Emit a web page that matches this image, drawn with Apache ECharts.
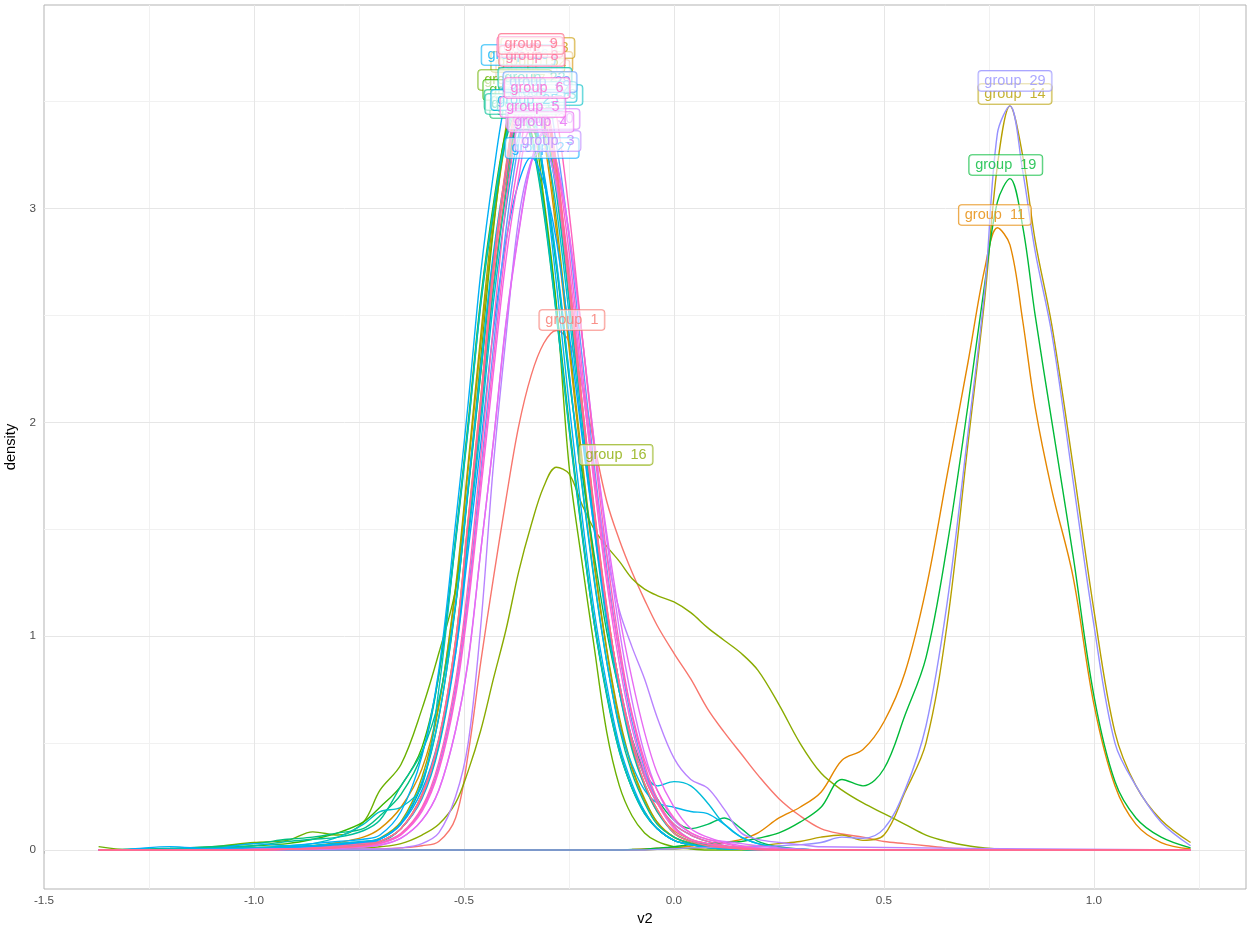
<!DOCTYPE html>
<html>
<head>
<meta charset="utf-8">
<title>density of v2 by group</title>
<script src="https://cdn.jsdelivr.net/npm/echarts@6/dist/echarts.min.js"></script>
<style>
  html, body { margin: 0; padding: 0; background: #ffffff; }
  #chart { width: 1247px; height: 932px; }
</style>
</head>
<body>
<div id="chart"></div>
<script>
// evaluation points of the density estimates
const v2Full = [
  -1.37, -1.3, -1.2, -1.1, -1.0, -0.92, -0.86, -0.8, -0.74,
  -0.7, -0.65, -0.6, -0.56, -0.52, -0.49, -0.46, -0.43, -0.4, -0.37, -0.34, -0.31, -0.28, -0.25, -0.22, -0.19, -0.16, -0.13, -0.1, -0.07, -0.04,
  0, 0.04, 0.08, 0.12, 0.16, 0.2, 0.25, 0.3, 0.35,
  0.4, 0.45, 0.5, 0.55, 0.6, 0.65, 0.7, 0.74, 0.77, 0.8, 0.83, 0.86, 0.9, 0.95, 1.0, 1.05, 1.1, 1.16, 1.23
];
const v2Peak = [
  -1.37, -1.3, -1.2, -1.1, -1.0, -0.92, -0.86, -0.8, -0.74,
  -0.7, -0.65, -0.6, -0.56, -0.52, -0.49, -0.46, -0.43, -0.4, -0.37, -0.34, -0.31, -0.28, -0.25, -0.22, -0.19, -0.16, -0.13, -0.1, -0.07, -0.04,
  0, 0.04, 0.08, 0.12, 0.16, 0.2, 0.25, 0.3, 0.35,
  1.23
];

// densities on v2Full
const d1 = [
  0, 0, 0, 0, 0, 0, 0.002, 0.003, 0.004,
  0.005, 0.01, 0.02, 0.04, 0.15, 0.45, 0.88, 1.27, 1.64, 1.98, 2.22, 2.37, 2.43, 2.38, 2.18, 1.9, 1.63, 1.45, 1.3, 1.17, 1.05,
  0.92, 0.8, 0.66, 0.55, 0.45, 0.35, 0.24, 0.16, 0.1,
  0.075, 0.06, 0.04, 0.03, 0.02, 0.01, 0.005, 0, 0, 0, 0, 0, 0, 0, 0, 0, 0, 0, 0
];
const d11 = [
  0, 0, 0, 0, 0, 0, 0, 0, 0,
  0, 0, 0, 0, 0, 0, 0, 0, 0, 0, 0, 0, 0, 0, 0, 0, 0, 0, 0.002, 0.005, 0.008,
  0.012, 0.018, 0.025, 0.035, 0.05, 0.08, 0.15, 0.2, 0.27,
  0.42, 0.47, 0.6, 0.83, 1.22, 1.75, 2.28, 2.72, 2.91, 2.83, 2.48, 2.07, 1.68, 1.28, 0.68, 0.3, 0.12, 0.035, 0.005
];
const d14 = [
  0, 0, 0, 0, 0, 0, 0, 0, 0,
  0, 0, 0, 0, 0, 0, 0, 0, 0, 0, 0, 0, 0, 0, 0, 0, 0, 0, 0, 0, 0.003,
  0.005, 0.008, 0.01, 0.012, 0.015, 0.02, 0.03, 0.04, 0.06,
  0.07, 0.045, 0.07, 0.27, 0.5, 1.05, 1.9, 2.58, 3.2, 3.48, 3.25, 2.85, 2.45, 1.8, 1.12, 0.55, 0.3, 0.14, 0.035
];
const d16 = [
  0, 0, 0, 0.002, 0.003, 0.004, 0.005, 0.006, 0.01,
  0.015, 0.03, 0.07, 0.12, 0.22, 0.37, 0.56, 0.8, 1.03, 1.3, 1.52, 1.7, 1.79, 1.76, 1.62, 1.5, 1.42, 1.35, 1.27, 1.22, 1.19,
  1.16, 1.11, 1.04, 0.98, 0.92, 0.84, 0.68, 0.5, 0.36,
  0.28, 0.22, 0.17, 0.12, 0.07, 0.04, 0.02, 0.01, 0.005, 0.003, 0, 0, 0, 0, 0, 0, 0, 0, 0
];
const d19 = [
  0, 0, 0, 0, 0, 0, 0, 0, 0,
  0, 0, 0, 0, 0, 0, 0, 0, 0, 0, 0, 0, 0, 0, 0, 0, 0, 0, 0.002, 0.004, 0.008,
  0.015, 0.025, 0.03, 0.035, 0.04, 0.055, 0.08, 0.13, 0.2,
  0.33, 0.3, 0.38, 0.63, 0.9, 1.42, 2.08, 2.65, 3.03, 3.14, 2.92, 2.5, 2.0, 1.38, 0.72, 0.32, 0.15, 0.06, 0.01
];
const d29 = [
  0, 0, 0, 0, 0, 0, 0, 0, 0,
  0, 0, 0, 0, 0, 0, 0, 0, 0, 0, 0, 0, 0, 0, 0, 0, 0, 0, 0, 0, 0.003,
  0.006, 0.01, 0.012, 0.015, 0.015, 0.015, 0.02, 0.025, 0.035,
  0.06, 0.055, 0.1, 0.28, 0.58, 1.15, 1.95, 2.62, 3.35, 3.48, 3.18, 2.8, 2.41, 1.73, 1.05, 0.5, 0.3, 0.13, 0.02
];

// densities on v2Peak
const d2 = [
  0, 0, 0.002, 0.004, 0.008, 0.012, 0.02, 0.03, 0.04,
  0.052, 0.124, 0.31, 0.62, 1.14, 1.68, 2.23, 2.76, 3.14, 3.37, 3.37, 3.14, 2.73, 2.21, 1.78, 1.38, 1.02, 0.74, 0.52, 0.36, 0.24,
  0.14, 0.1, 0.12, 0.15, 0.1, 0.04, 0.015, 0.005, 0, 0
];
const d3 = [
  0, 0, 0, 0, 0.001, 0.002, 0.003, 0.004, 0.005,
  0.005, 0.01, 0.03, 0.08, 0.25, 0.5, 1.05, 1.8, 2.4, 2.95, 3.22, 3.28, 3.1, 2.65, 2.2, 1.75, 1.38, 1.12, 0.95, 0.8, 0.62,
  0.43, 0.33, 0.29, 0.19, 0.08, 0.05, 0.035, 0.025, 0.015, 0
];
const d4 = [
  0, 0, 0, 0, 0.002, 0.003, 0.005, 0.008, 0.015,
  0.023, 0.056, 0.14, 0.28, 0.56, 0.88, 1.4, 1.91, 2.46, 2.88, 3.21, 3.35, 3.21, 2.88, 2.42, 1.91, 1.48, 1.1, 0.8, 0.55, 0.36,
  0.2, 0.1, 0.06, 0.035, 0.02, 0.01, 0.004, 0, 0, 0
];
const d5 = [
  0, 0, 0, 0, 0.002, 0.004, 0.006, 0.01, 0.018,
  0.03, 0.071, 0.18, 0.37, 0.72, 1.14, 1.68, 2.23, 2.76, 3.14, 3.37, 3.37, 3.14, 2.73, 2.21, 1.71, 1.25, 0.87, 0.57, 0.36, 0.22,
  0.1, 0.05, 0.03, 0.015, 0.008, 0.004, 0, 0, 0, 0
];
const d6 = [
  0, 0, 0, 0, 0.002, 0.005, 0.008, 0.012, 0.02,
  0.031, 0.073, 0.19, 0.38, 0.74, 1.17, 1.73, 2.29, 2.83, 3.22, 3.46, 3.46, 3.22, 2.8, 2.27, 1.76, 1.29, 0.92, 0.64, 0.42, 0.28,
  0.15, 0.08, 0.05, 0.03, 0.015, 0.008, 0.003, 0, 0, 0
];
const d7 = [
  0, 0, 0, 0, 0, 0.003, 0.006, 0.012, 0.02,
  0.033, 0.078, 0.2, 0.41, 0.79, 1.25, 1.84, 2.45, 3.02, 3.44, 3.7, 3.7, 3.44, 2.99, 2.43, 1.88, 1.38, 0.96, 0.63, 0.4, 0.24,
  0.11, 0.05, 0.03, 0.014, 0.007, 0.003, 0, 0, 0, 0
];
const d8 = [
  0, 0, 0, 0, 0, 0.004, 0.01, 0.018, 0.03,
  0.04, 0.1, 0.25, 0.51, 0.97, 1.53, 2.08, 2.7, 3.15, 3.51, 3.66, 3.51, 3.15, 2.64, 2.08, 1.58, 1.12, 0.78, 0.52, 0.34, 0.22,
  0.12, 0.07, 0.04, 0.02, 0.01, 0.005, 0.002, 0, 0, 0
];
const d9 = [
  0, 0, 0, 0, 0, 0.003, 0.007, 0.012, 0.022,
  0.04, 0.1, 0.26, 0.52, 0.98, 1.55, 2.12, 2.74, 3.2, 3.56, 3.72, 3.56, 3.2, 2.69, 2.12, 1.6, 1.14, 0.77, 0.5, 0.31, 0.19,
  0.08, 0.04, 0.02, 0.01, 0.005, 0, 0, 0, 0, 0
];
const d10 = [
  0, 0, 0, 0.002, 0.004, 0.006, 0.01, 0.018, 0.03,
  0.04, 0.1, 0.25, 0.5, 0.95, 1.5, 2.05, 2.65, 3.1, 3.45, 3.6, 3.45, 3.1, 2.6, 2.05, 1.55, 1.1, 0.75, 0.48, 0.3, 0.18,
  0.09, 0.05, 0.03, 0.015, 0.008, 0.004, 0.002, 0, 0, 0
];
const d12 = [
  0, 0, 0.002, 0.004, 0.008, 0.012, 0.02, 0.035, 0.06,
  0.1, 0.2, 0.38, 0.68, 1.21, 1.78, 2.37, 2.92, 3.33, 3.58, 3.58, 3.33, 2.89, 2.35, 1.81, 1.33, 0.93, 0.6, 0.38, 0.23, 0.13,
  0.06, 0.03, 0.016, 0.008, 0.004, 0.002, 0, 0, 0, 0
];
const d13 = [
  0, 0, 0, 0.002, 0.004, 0.006, 0.01, 0.015, 0.025,
  0.04, 0.1, 0.26, 0.51, 0.98, 1.54, 2.11, 2.72, 3.19, 3.55, 3.7, 3.55, 3.19, 2.67, 2.11, 1.59, 1.13, 0.77, 0.49, 0.31, 0.19,
  0.08, 0.04, 0.02, 0.01, 0.005, 0.002, 0, 0, 0, 0
];
const d15 = [
  0, 0, 0.002, 0.004, 0.006, 0.01, 0.015, 0.02, 0.035,
  0.056, 0.133, 0.34, 0.67, 1.23, 1.81, 2.41, 2.97, 3.38, 3.64, 3.64, 3.38, 2.94, 2.39, 1.85, 1.35, 0.94, 0.62, 0.39, 0.24, 0.13,
  0.06, 0.033, 0.016, 0.008, 0.004, 0.002, 0, 0, 0, 0
];
const d17 = [
  0.016, 0.002, 0.005, 0.015, 0.035, 0.045, 0.085, 0.07, 0.13,
  0.28, 0.4, 0.66, 0.92, 1.22, 1.7, 2.3, 2.9, 3.35, 3.55, 3.45, 3.05, 2.55, 1.8, 1.36, 0.95, 0.55, 0.3, 0.16, 0.08, 0.04,
  0.015, 0.005, 0, 0, 0, 0, 0, 0, 0, 0
];
const d18 = [
  0, 0, 0.004, 0.01, 0.02, 0.03, 0.05, 0.08, 0.13,
  0.2, 0.3, 0.48, 0.82, 1.46, 2.0, 2.58, 3.02, 3.36, 3.51, 3.36, 3.02, 2.54, 2.0, 1.51, 1.07, 0.73, 0.47, 0.29, 0.18, 0.1,
  0.045, 0.025, 0.012, 0.006, 0.003, 0, 0, 0, 0, 0
];
const d20 = [
  0, 0.003, 0.008, 0.015, 0.03, 0.05, 0.06, 0.08, 0.1,
  0.16, 0.26, 0.45, 0.82, 1.44, 1.97, 2.55, 2.98, 3.32, 3.46, 3.32, 2.98, 2.5, 1.97, 1.49, 1.06, 0.72, 0.46, 0.29, 0.17, 0.1,
  0.045, 0.025, 0.012, 0.006, 0.003, 0, 0, 0, 0, 0
];
const d21 = [
  0, 0, 0.003, 0.01, 0.02, 0.04, 0.05, 0.06, 0.09,
  0.14, 0.3, 0.46, 0.7, 1.15, 1.69, 2.24, 2.77, 3.15, 3.39, 3.39, 3.15, 2.74, 2.23, 1.72, 1.26, 0.88, 0.57, 0.36, 0.22, 0.12,
  0.06, 0.03, 0.015, 0.008, 0.004, 0.002, 0, 0, 0, 0
];
const d22 = [
  0, 0.002, 0.005, 0.008, 0.012, 0.015, 0.02, 0.03, 0.035,
  0.04, 0.1, 0.25, 0.49, 0.94, 1.48, 2.03, 2.62, 3.07, 3.41, 3.56, 3.41, 3.07, 2.57, 2.03, 1.53, 1.09, 0.74, 0.47, 0.3, 0.18,
  0.08, 0.04, 0.02, 0.01, 0.005, 0.002, 0, 0, 0, 0
];
const d23 = [
  0, 0, 0.002, 0.005, 0.01, 0.02, 0.03, 0.06, 0.12,
  0.18, 0.2, 0.3, 0.75, 1.45, 1.98, 2.56, 3.0, 3.34, 3.48, 3.34, 3.0, 2.51, 1.98, 1.5, 1.06, 0.73, 0.46, 0.29, 0.17, 0.1,
  0.045, 0.025, 0.012, 0.006, 0.003, 0, 0, 0, 0, 0
];
const d24 = [
  0, 0, 0, 0.003, 0.006, 0.01, 0.015, 0.02, 0.03,
  0.04, 0.1, 0.24, 0.48, 0.92, 1.45, 1.98, 2.56, 3.0, 3.34, 3.48, 3.34, 3.0, 2.51, 1.98, 1.5, 1.06, 0.74, 0.5, 0.36, 0.3,
  0.32, 0.3, 0.22, 0.12, 0.06, 0.03, 0.01, 0.004, 0, 0
];
const d25 = [
  0, 0, 0.002, 0.004, 0.008, 0.012, 0.02, 0.03, 0.04,
  0.053, 0.125, 0.32, 0.62, 1.15, 1.7, 2.26, 2.79, 3.17, 3.41, 3.41, 3.17, 2.76, 2.24, 1.73, 1.27, 0.88, 0.58, 0.4, 0.28, 0.22,
  0.2, 0.18, 0.17, 0.12, 0.06, 0.03, 0.01, 0.004, 0, 0
];
const d26 = [
  0, 0.003, 0.016, 0.005, 0.03, 0.02, 0.03, 0.04, 0.05,
  0.07, 0.18, 0.44, 0.84, 1.53, 2.09, 2.7, 3.16, 3.52, 3.67, 3.52, 3.16, 2.65, 2.09, 1.58, 1.12, 0.77, 0.49, 0.31, 0.18, 0.1,
  0.045, 0.025, 0.012, 0.006, 0.003, 0, 0, 0, 0, 0
];
const d27 = [
  0, 0, 0, 0.003, 0.006, 0.01, 0.015, 0.025, 0.035,
  0.05, 0.12, 0.28, 0.52, 0.92, 1.4, 1.9, 2.43, 2.85, 3.12, 3.24, 3.12, 2.85, 2.42, 1.95, 1.5, 1.1, 0.78, 0.52, 0.34, 0.22,
  0.12, 0.07, 0.04, 0.02, 0.01, 0.005, 0.002, 0, 0, 0
];
const d28 = [
  0, 0, 0, 0.002, 0.004, 0.006, 0.01, 0.015, 0.022,
  0.032, 0.075, 0.19, 0.39, 0.76, 1.2, 1.77, 2.35, 2.9, 3.3, 3.54, 3.54, 3.3, 2.87, 2.33, 1.8, 1.32, 0.92, 0.6, 0.38, 0.23,
  0.11, 0.05, 0.028, 0.013, 0.007, 0.003, 0, 0, 0, 0
];
const d30 = [
  0, 0, 0, 0, 0.002, 0.003, 0.005, 0.008, 0.015,
  0.023, 0.056, 0.14, 0.28, 0.56, 0.89, 1.4, 1.91, 2.47, 2.89, 3.22, 3.36, 3.22, 2.89, 2.43, 1.91, 1.45, 1.03, 0.7, 0.45, 0.28,
  0.14, 0.08, 0.05, 0.04, 0.03, 0.02, 0.01, 0.005, 0, 0
];

// factor levels (alphabetical), drawing order
const groupOrder = ['1', '10', '11', '12', '13', '14', '15', '16', '17', '18', '19',
  '2', '20', '21', '22', '23', '24', '25', '26', '27', '28', '29',
  '3', '30', '4', '5', '6', '7', '8', '9'];
const fullGridGroups = ['1', '11', '14', '16', '19', '29'];

// label anchors, same order as groupOrder
const labelX = [-0.243, -0.336, 0.764, -0.329, -0.324, 0.812, -0.348, -0.138, -0.379, -0.367, 0.790,
  -0.36, -0.364, -0.362, -0.331, -0.305, -0.319, -0.348, -0.371, -0.314, -0.319, 0.812,
  -0.300, -0.312, -0.317, -0.336, -0.326, -0.343, -0.338, -0.340];
const labelY = [2.479, 3.648, 2.970, 3.686, 3.751, 3.536, 3.686, 1.848, 3.601, 3.555, 3.204,
  3.470, 3.508, 3.489, 3.611, 3.531, 3.545, 3.508, 3.718, 3.283, 3.592, 3.597,
  3.316, 3.419, 3.405, 3.475, 3.564, 3.756, 3.714, 3.770];

// axis ticks and grid lines
const xMajor = [-1.5, -1.0, -0.5, 0, 0.5, 1.0];
const xMinor = [-1.25, -0.75, -0.25, 0.25, 0.75, 1.25];
const yMajor = [0, 1, 2, 3];
const yMinor = [0.5, 1.5, 2.5, 3.5];

const densityByGroup = {
  '1': d1, '2': d2, '3': d3, '4': d4, '5': d5, '6': d6, '7': d7, '8': d8, '9': d9, '10': d10,
  '11': d11, '12': d12, '13': d13, '14': d14, '15': d15, '16': d16, '17': d17, '18': d18, '19': d19, '20': d20,
  '21': d21, '22': d22, '23': d23, '24': d24, '25': d25, '26': d26, '27': d27, '28': d28, '29': d29, '30': d30
};

// HCL (polar Luv) to sRGB, chroma 100 and luminance 65 like the default discrete hue scale
function hueColour(h) {
  const L = 65, C = 100;
  const hr = h * Math.PI / 180;
  const U = C * Math.cos(hr), V = C * Math.sin(hr);
  const Y = 100 * Math.pow((L + 16) / 116, 3);
  const u = U / (13 * L) + 0.1978398;
  const v = V / (13 * L) + 0.4683363;
  const X = 9 * Y * u / (4 * v);
  const Z = -X / 3 - 5 * Y + 3 * Y / v;
  const gam = t => (t > 0.00304 ? 1.055 * Math.pow(t, 1 / 2.4) - 0.055 : 12.92 * t);
  const rgb = [
    gam((3.240479 * X - 1.537150 * Y - 0.498535 * Z) / 100),
    gam((-0.969256 * X + 1.875992 * Y + 0.041556 * Z) / 100),
    gam((0.055648 * X - 0.204043 * Y + 1.057311 * Z) / 100)
  ];
  return '#' + rgb.map(c => {
    const n = Math.round(Math.min(1, Math.max(0, c)) * 255);
    return n.toString(16).padStart(2, '0');
  }).join('');
}
const colours = groupOrder.map((g, i) => hueColour(15 + i * 360 / groupOrder.length));

const FONT = '"Liberation Sans", Arial, Helvetica, sans-serif';

// panel grid lines, kept underneath the curves; the left edge is the panel border
const gridLineSeries = {
  type: 'line',
  data: [],
  z: 1,
  silent: true,
  markLine: {
    z: 1,
    silent: true,
    symbol: ['none', 'none'],
    label: { show: false },
    emphasis: { disabled: true },
    animation: false,
    data: [
      ...xMinor.map(v => ({ xAxis: v, lineStyle: { color: '#F1F1F1', width: 1, type: 'solid' } })),
      ...yMinor.map(v => ({ yAxis: v, lineStyle: { color: '#F1F1F1', width: 1, type: 'solid' } })),
      ...xMajor.filter(v => v > -1.5).map(v => ({ xAxis: v, lineStyle: { color: '#E6E6E6', width: 1, type: 'solid' } })),
      ...yMajor.map(v => ({ yAxis: v, lineStyle: { color: '#E6E6E6', width: 1, type: 'solid' } }))
    ]
  }
};

const curveSeries = groupOrder.map((g, i) => {
  const xs = fullGridGroups.includes(g) ? v2Full : v2Peak;
  const ys = densityByGroup[g];
  return {
    type: 'line',
    name: 'group  ' + g,
    data: xs.map((x, k) => [x, ys[k]]),
    smooth: 0.35,
    symbol: 'none',
    showSymbol: false,
    silent: true,
    z: 3,
    lineStyle: { color: colours[i], width: 1.4 },
    itemStyle: { color: colours[i] },
    emphasis: { disabled: true }
  };
});

const labelSeries = {
  type: 'scatter',
  z: 10,
  silent: true,
  symbol: 'circle',
  symbolSize: 1,
  itemStyle: { color: 'rgba(0,0,0,0)' },
  emphasis: { disabled: true },
  label: {
    show: true,
    position: 'inside',
    fontFamily: FONT,
    fontSize: 14.5,
    backgroundColor: 'rgba(255,255,255,0.7)',
    borderWidth: 0.8,
    borderRadius: 3,
    padding: [3, 6, 2, 6]
  },
  data: groupOrder.map((g, i) => ({
    value: [labelX[i], labelY[i]],
    label: { formatter: 'group  ' + g, color: colours[i], borderColor: colours[i] }
  }))
};

const chart = echarts.init(document.getElementById('chart'), null, { renderer: 'canvas' });
chart.setOption({
  animation: false,
  backgroundColor: '#ffffff',
  grid: {
    left: 44, top: 5, width: 1202, height: 884,
    containLabel: false,
    outerBoundsMode: 'none',
    show: true,
    backgroundColor: '#ffffff',
    borderColor: '#B3B3B3',
    borderWidth: 1
  },
  xAxis: {
    type: 'value',
    min: -1.5,
    max: 1.362,
    name: 'v2',
    nameLocation: 'middle',
    nameGap: 21,
    nameTextStyle: { color: '#000000', fontSize: 14.7, fontFamily: FONT },
    axisLine: { show: false },
    splitLine: { show: false },
    axisTick: { show: true, customValues: xMajor, length: 3.7, lineStyle: { color: '#B3B3B3', width: 0.8 } },
    axisLabel: {
      customValues: xMajor,
      formatter: v => v.toFixed(1),
      color: '#4D4D4D', fontSize: 11.7, fontFamily: FONT, margin: 6
    }
  },
  yAxis: {
    type: 'value',
    min: -0.1824,
    max: 3.952,
    name: 'density',
    nameLocation: 'middle',
    nameGap: 20,
    nameRotate: 90,
    nameTextStyle: { color: '#000000', fontSize: 14.7, fontFamily: FONT },
    axisLine: { show: false },
    splitLine: { show: false },
    axisTick: { show: true, customValues: yMajor, length: 3.7, lineStyle: { color: '#B3B3B3', width: 0.8 } },
    axisLabel: {
      customValues: yMajor,
      formatter: v => String(v),
      color: '#4D4D4D', fontSize: 11.7, fontFamily: FONT, margin: 8
    }
  },
  series: [gridLineSeries, ...curveSeries, labelSeries]
});
</script>
</body>
</html>
